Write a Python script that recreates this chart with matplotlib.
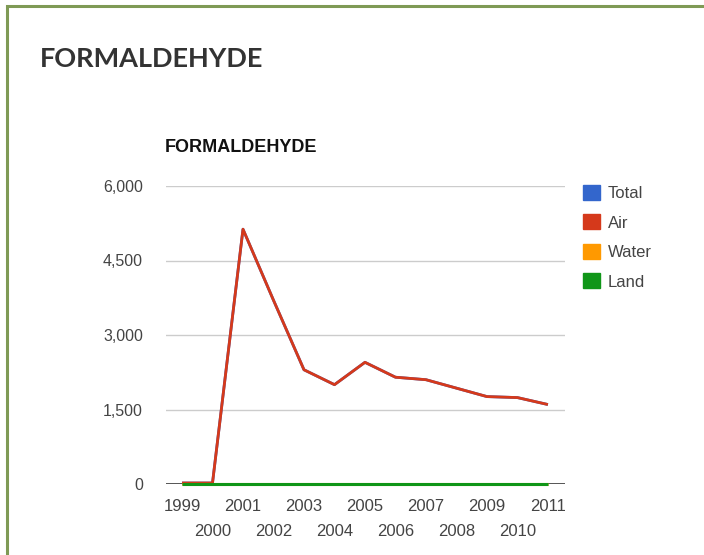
import matplotlib.pyplot as plt
from matplotlib.patches import Patch, Rectangle

years = list(range(1999, 2012))
air = [20, 20, 5130, 3700, 2300, 2000, 2450, 2150, 2100, 1930, 1760, 1740, 1600]
total = air
water = [0] * len(years)
land = [0] * len(years)
series = ["Total", "Air", "Water", "Land"]
colors = ["#3366cc", "#d5391b", "#ff9900", "#109618"]

fig = plt.figure(figsize=(7.04, 5.55), dpi=100)

# olive frame
fig.patches.append(Rectangle((7 / 704, -0.1), 1.2, 1 - 6 / 555 + 0.1, transform=fig.transFigure,
                             fill=False, edgecolor="#7f9a55", linewidth=2.2))

fig.text(40 / 704, 1 - 59 / 555, "FORMALDEHYDE", fontsize=19.5, family="Lato",
         fontweight="bold", color="#333333", va="center", ha="left")

ax = fig.add_axes([166 / 704, 1 - 484 / 555, 399 / 704, 298 / 555])
fig.text(165 / 704, 1 - 147 / 555, "FORMALDEHYDE", fontsize=13,
         fontweight="bold", family="Liberation Sans", color="#111111",
         ha="left", va="center")

for name, vals, c in zip(series, [total, air, water, land], colors):
    lw = 2.0 if name in ("Air", "Total") else 2.2
    ax.plot(years, vals, color=c, linewidth=lw, solid_capstyle="butt", zorder=3, clip_on=False)

ax.set_ylim(0, 6000)
ax.set_xlim(1998.475, 2011.56)
ax.set_yticks([0, 1500, 3000, 4500, 6000])
ax.set_yticklabels(["0", "1,500", "3,000", "4,500", "6,000"])
odd = [y for y in years if (y - 1999) % 2 == 0]
even = [y for y in years if (y - 1999) % 2 == 1]
ax.set_xticks(odd)
ax.set_xticklabels([str(y) for y in odd])
ax.set_xticks(even, minor=True)
ax.set_xticklabels([str(y) for y in even], minor=True)
ax.grid(axis="y", color="#cccccc", linewidth=1)
ax.axhline(0, color="#555555", linewidth=1.4, zorder=2)
for s in ax.spines.values():
    s.set_visible(False)
ax.tick_params(which="both", length=0, labelcolor="#444444")
ax.tick_params(axis="x", which="major", pad=10.5, labelsize=12)
ax.tick_params(axis="x", which="minor", pad=28.5, labelsize=12)
ax.tick_params(axis="y", pad=16.5, labelsize=11.5)
for lab in ax.get_xticklabels() + ax.get_xticklabels(minor=True) + ax.get_yticklabels():
    lab.set_family("Liberation Sans")

handles = [Patch(facecolor=c, edgecolor=c) for c in colors]
leg = fig.legend(handles, series, loc="upper left", bbox_to_anchor=(583 / 704, 1 - 185 / 555),
                 frameon=False, handlelength=1.0, handleheight=1.0, handletextpad=0.5,
                 labelspacing=0.8, borderpad=0, borderaxespad=0,
                 prop={"family": "Liberation Sans", "size": 12})
for t in leg.get_texts():
    t.set_color("#444444")

fig.savefig("out.png", dpi=100)
